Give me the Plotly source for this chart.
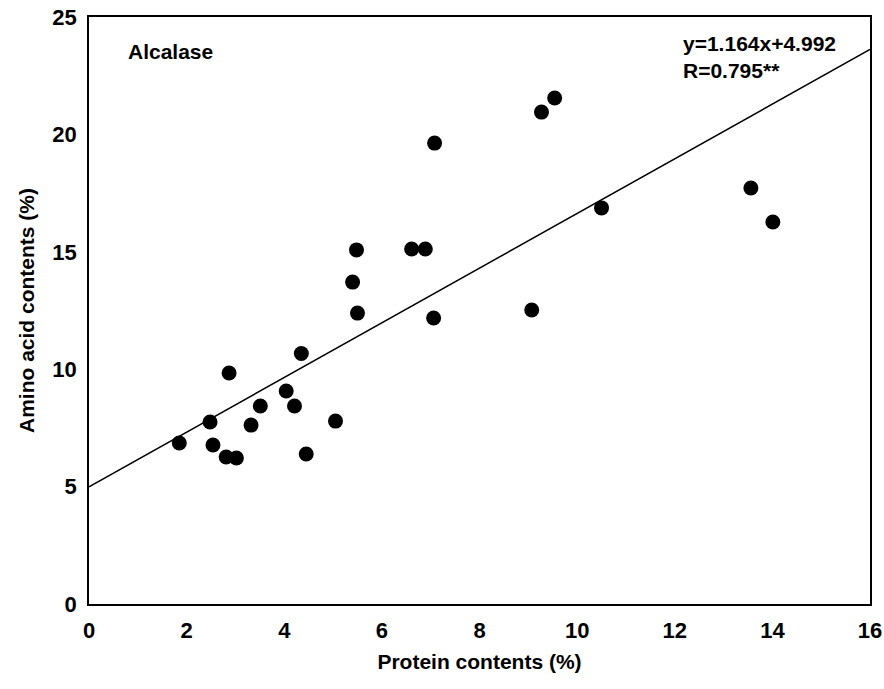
import plotly.graph_objects as go

protein = [1.85, 2.48, 2.54, 2.81, 3.02, 2.87, 3.32, 3.51, 4.04, 4.21, 4.35, 4.45, 5.05,
           5.40, 5.48, 5.50, 6.61, 6.89, 7.08, 7.06, 9.07, 9.27, 9.54, 10.50, 13.56, 14.01]
amino = [6.86, 7.75, 6.77, 6.26, 6.22, 9.84, 7.62, 8.43, 9.07, 8.43, 10.67, 6.39, 7.79,
         13.71, 15.08, 12.39, 15.12, 15.12, 19.63, 12.18, 12.52, 20.95, 21.55, 16.87, 17.72, 16.27]
slope = 1.164
intercept = 4.992
fit_x = [0, 16]
fit_y = [slope * v + intercept for v in fit_x]
x_ticks = [0, 2, 4, 6, 8, 10, 12, 14, 16]
y_ticks = [0, 5, 10, 15, 20, 25]

FONT = "Liberation Sans, Arial, sans-serif"

fig = go.Figure()
fig.add_trace(go.Scatter(x=fit_x, y=fit_y, mode="lines",
                         line=dict(color="black", width=1.5), showlegend=False))
fig.add_trace(go.Scatter(x=protein, y=amino, mode="markers",
                         marker=dict(color="black", size=15), showlegend=False))

fig.add_annotation(x=0.047, y=0.942, xref="paper", yref="paper", text="<b>Alcalase</b>",
                   showarrow=False, xanchor="left", yanchor="middle",
                   font=dict(family=FONT, size=21, color="black"))
fig.add_annotation(x=0.758, y=0.978, xref="paper", yref="paper",
                   text="<b>y=1.164x+4.992</b><br><b>R=0.795**</b>",
                   showarrow=False, xanchor="left", yanchor="top", align="left",
                   font=dict(family=FONT, size=21, color="black"))

axis_common = dict(showline=True, linecolor="black", linewidth=1.5, mirror=True,
                   showgrid=False, zeroline=False, ticks="", automargin=False,
                   tickfont=dict(family=FONT, size=22, color="black"))

fig.update_layout(
    width=884, height=689,
    margin=dict(l=89, r=14, t=17, b=85),
    plot_bgcolor="white", paper_bgcolor="white",
    xaxis=dict(range=[0, 16], tickvals=x_ticks, ticktext=[f"<b>{v}</b>" for v in x_ticks],
               title=dict(text="<b>Protein contents (%)</b>", font=dict(family=FONT, size=21, color="black"),
                          standoff=12),
               ticklabelstandoff=6, **axis_common),
    yaxis=dict(range=[0, 25], tickvals=y_ticks, ticktext=[f"<b>{v}</b>" for v in y_ticks],
               title=dict(text="<b>Amino acid contents (%)</b>", font=dict(family=FONT, size=21, color="black"),
                          standoff=12),
               ticklabelstandoff=6, **axis_common),
)

fig.write_html("out.html")
